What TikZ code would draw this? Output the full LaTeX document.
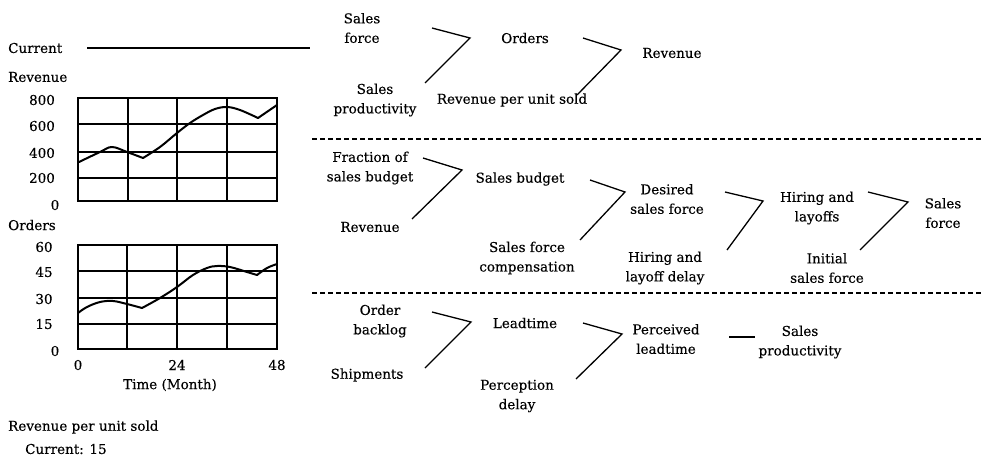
\documentclass[tikz,border=0pt]{standalone}
\usepackage{fontspec}
\setmainfont{DejaVu Serif}[FakeBold=0.35]
\begin{document}
\begin{tikzpicture}[x=1pt,y=-1pt,
  lbl/.style={inner sep=0pt,align=center,font=\fontsize{13.5}{19.5}\selectfont},
  tick/.style={inner sep=0pt,font=\fontsize{13.5}{16}\selectfont},
  link/.style={line width=1.3pt,line join=miter},
  sep/.style={line width=1.2pt,dash pattern=on 5pt off 3pt},
  grid/.style={line width=1.1pt},
  frame/.style={line width=1.4pt},
  trace/.style={line width=2pt,line join=round,line cap=round}]
\useasboundingbox (0,0) rectangle (982,461);

% ---------- left column: legend ----------
\node[lbl,anchor=west] (cur) at (8,48) {Current};
\coordinate (curA) at (87,48);
\coordinate (curB) at (310,48);
\draw[line width=1.6pt] (curA) -- (curB);

% ---------- revenue chart ----------
\node[lbl,anchor=west] (revT) at (8,77) {Revenue};
\foreach \yy in {124,152,178} \draw[grid] (78,\yy) -- (277,\yy);
\foreach \xx in {128,177,227} \draw[grid] (\xx,98) -- (\xx,201);
\draw[frame] (78,98) rectangle (277,201);
\node[tick] (r800) at (42,100) {800};
\node[tick] (r600) at (42,126) {600};
\node[tick] (r400) at (42,153) {400};
\node[tick] (r200) at (42,178) {200};
\node[tick] (r0)   at (55,205) {0};
\draw[trace] plot[smooth,tension=0.6] coordinates {(79,162) (100,152) (112,147) (127,152) (143,158)};
\draw[trace] plot[smooth,tension=0.6] coordinates {(143,158) (160,147) (177,133) (190,123) (203,115) (215,109) (227,107) (240,110) (258,118)};
\draw[trace] (258,118) -- (277,105);

% ---------- orders chart ----------
\node[lbl,anchor=west] (ordT) at (8,225) {Orders};
\foreach \yy in {271,298,324} \draw[grid] (78,\yy) -- (277,\yy);
\foreach \xx in {127,177,227} \draw[grid] (\xx,245) -- (\xx,349);
\draw[frame] (78,245) rectangle (277,349);
\node[tick] (o60) at (44,247) {60};
\node[tick] (o45) at (44,272) {45};
\node[tick] (o30) at (44,299) {30};
\node[tick] (o15) at (44,324) {15};
\node[tick] (o0)  at (55,351) {0};
\draw[trace] plot[smooth,tension=0.6] coordinates {(78,313) (87,307) (100,302) (113,301) (127,304) (142,308)};
\draw[trace] plot[smooth,tension=0.6] coordinates {(142,308) (160,298) (177,287) (193,275) (207,268) (217,266) (230,267) (247,272) (257,275)};
\draw[trace] plot[smooth,tension=0.6] coordinates {(257,275) (267,268) (277,264)};
\node[tick] (t0)  at (78,365) {0};
\node[tick] (t24) at (177,365) {24};
\node[tick] (t48) at (277,365) {48};
\node[lbl] (tax) at (170,385) {Time (Month)};

\node[lbl,anchor=west] (rpu) at (8,427) {Revenue per unit sold};
\node[lbl,anchor=west] (rpuc) at (25,449) {Current: 15};

% ---------- separators ----------
\draw[sep] (312,139) -- (982,139);
\draw[sep] (312,293) -- (982,293);

% ---------- top: orders and revenue ----------
\node[lbl] (sf1)  at (362,28) {Sales\\force};
\node[lbl] (sp1)  at (375,100) {Sales\\productivity};
\node[lbl] (ord)  at (525,38) {Orders};
\node[lbl] (rpu2) at (512,100) {Revenue per unit sold};
\node[lbl] (rev1) at (672,53) {Revenue};
\coordinate (j1) at (470,38);
\coordinate (j2) at (621,50);
\draw[link] (432,28) -- (j1) -- (425,83);
\draw[link] (583,38) -- (j2) -- (577,95);

% ---------- middle: sales force ----------
\node[lbl] (fsb) at (370,168) {Fraction of\\sales budget};
\node[lbl] (rev2) at (370,227) {Revenue};
\node[lbl] (sb)  at (520,179) {Sales budget};
\node[lbl] (sfc) at (527,258) {Sales force\\compensation};
\node[lbl] (dsf) at (667,199) {Desired\\sales force};
\node[lbl] (hld) at (665,268) {Hiring and\\layoff delay};
\node[lbl] (hl)  at (817,208) {Hiring and\\layoffs};
\node[lbl] (isf) at (827,268) {Initial\\sales force};
\node[lbl] (sf2) at (943,213) {Sales\\force};
\coordinate (j3) at (462,170);
\coordinate (j4) at (625,192);
\coordinate (j5) at (763,201);
\coordinate (j6) at (908,202);
\draw[link] (423,158) -- (j3) -- (412,219);
\draw[link] (590,180) -- (j4) -- (580,240);
\draw[link] (725,192) -- (j5) -- (727,250);
\draw[link] (868,192) -- (j6) -- (860,250);

% ---------- bottom: leadtime ----------
\node[lbl] (obl) at (380,321) {Order\\backlog};
\node[lbl] (shp) at (367,375) {Shipments};
\node[lbl] (ldt) at (525,323) {Leadtime};
\node[lbl] (pcd) at (517,396) {Perception\\delay};
\node[lbl] (pld) at (666,339) {Perceived\\leadtime};
\node[lbl] (sp2) at (800,342) {Sales\\productivity};
\coordinate (j7) at (471,322);
\coordinate (j8) at (622,334);
\draw[link] (432,312) -- (j7) -- (425,368);
\draw[link] (583,323) -- (j8) -- (576,379);
\draw[link] (729,337) -- (755,337);
\end{tikzpicture}
\end{document}
